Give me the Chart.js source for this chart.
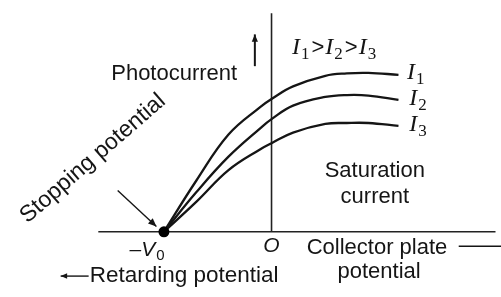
<!DOCTYPE html>
<html lang="en">
<head>
<meta charset="UTF-8">
<title>Photocurrent vs collector plate potential</title>
<script src="https://cdn.jsdelivr.net/npm/chart.js"></script>
<style>
  body { margin: 0; background: #fff; }
  #wrap { width: 501px; height: 297px; }
</style>
</head>
<body>
<div id="wrap"><canvas id="chart" width="501" height="297"></canvas></div>
<script>
// collector plate potential (arbitrary units, O = 0, -V0 = -10)
const potential = [-10, -7, -4, -1, 0, 2, 5, 7, 9, 11.8];
// photocurrent for three intensities (arbitrary units)
const currentI1 = [0, 5.3, 10.1, 13.0, 13.8, 15.1, 16.2, 16.45, 16.5, 16.3];
const currentI2 = [0, 4.1, 7.8, 10.8, 11.7, 13.1, 14.0, 14.2, 14.15, 13.7];
const currentI3 = [0, 3.1, 6.4, 8.6, 9.2, 10.3, 11.2, 11.3, 11.3, 11.0];
const stoppingV = -10;
const seriesNames = ['I1', 'I2', 'I3'];
// extents of the drawn axes
const xAxisSpan = [-16.1, 22];
const yAxisSpan = [0, 22.7];

const ink = '#151515';
const sans = '"Liberation Sans", Arial, sans-serif';
const serif = '"Liberation Serif", "Times New Roman", serif';

function toPoints(ys) {
  return ys.map((v, i) => ({ x: potential[i], y: v }));
}

function curve(label, ys) {
  return {
    label: label,
    data: toPoints(ys),
    showLine: true,
    borderColor: ink,
    borderWidth: 2.3,
    pointRadius: 0,
    tension: 0.4,
    fill: false
  };
}

function arrow(ctx, x1, y1, x2, y2, head) {
  const a = Math.atan2(y2 - y1, x2 - x1);
  ctx.beginPath();
  ctx.moveTo(x1, y1);
  ctx.lineTo(x2, y2);
  ctx.stroke();
  ctx.beginPath();
  ctx.moveTo(x2, y2);
  ctx.lineTo(x2 - head * Math.cos(a - 0.4), y2 - head * Math.sin(a - 0.4));
  ctx.lineTo(x2 - head * Math.cos(a + 0.4), y2 - head * Math.sin(a + 0.4));
  ctx.closePath();
  ctx.fill();
}

// draws runs of text with their own font and vertical offset (subscripts)
function rich(ctx, parts, px, py) {
  let cx = px;
  parts.forEach(p => {
    ctx.font = p[1];
    ctx.fillText(p[0], cx, py + (p[2] || 0));
    cx += ctx.measureText(p[0]).width + (p[3] || 0);
  });
}

const notes = {
  id: 'notes',
  afterDatasetsDraw(chart) {
    const { ctx, scales } = chart;
    const X = v => scales.x.getPixelForValue(v);
    const Y = v => scales.y.getPixelForValue(v);
    ctx.save();
    ctx.fillStyle = ink;
    ctx.strokeStyle = ink;
    ctx.lineWidth = 1.4;
    ctx.textBaseline = 'alphabetic';

    const big = '22px ' + sans;
    const iFont = 'italic 24px ' + serif;
    const subFont = '17px ' + serif;

    ctx.textAlign = 'left';
    ctx.font = big;
    ctx.fillText('Photocurrent', X(-14.9), Y(15.8));

    ctx.lineWidth = 2;
    arrow(ctx, X(-1.55), Y(17.2), X(-1.55), Y(20.5), 8);
    ctx.lineWidth = 1.4;

    rich(ctx, [
      ['I', iFont, 0, 1], ['1', subFont, 5, 2], ['>', '22px ' + sans, 0, 1],
      ['I', iFont, 0, 1], ['2', subFont, 5, 2], ['>', '22px ' + sans, 0, 1],
      ['I', iFont, 0, 1], ['3', subFont, 5]
    ], X(1.9), Y(18.5));

    const labelPos = [[12.6, 15.9], [12.8, 13.2], [12.8, 10.5]];
    seriesNames.forEach((n, i) => {
      rich(ctx, [['I', iFont, 0, 1], [n.slice(1), subFont, 5]], X(labelPos[i][0]), Y(labelPos[i][1]));
    });

    ctx.textAlign = 'center';
    ctx.font = big;
    ctx.fillText('Saturation', X(9.6), Y(5.7));
    ctx.fillText('current', X(9.6), Y(3.0));
    ctx.fillText('Collector plate', X(9.8), Y(-2.3));
    ctx.fillText('potential', X(10.0), Y(-4.8));
    ctx.beginPath();
    ctx.moveTo(X(17.4), Y(-1.5));
    ctx.lineTo(X(22), Y(-1.5));
    ctx.stroke();

    ctx.font = 'italic 21px ' + sans;
    ctx.fillText('O', X(0), Y(-2.1));

    ctx.textAlign = 'left';
    rich(ctx, [['\u2013V', 'italic 21px ' + sans, 0, 1], ['0', '15px ' + sans, 4]], X(-13.2), Y(-2.5));

    ctx.font = '22.5px ' + sans;
    ctx.fillText('Retarding potential', X(-16.9), Y(-5.2));
    arrow(ctx, X(-17.0), Y(-4.6), X(-19.6), Y(-4.6), 7);

    ctx.save();
    ctx.translate(X(-16.6), Y(7.6));
    ctx.rotate(-41 * Math.PI / 180);
    ctx.textAlign = 'center';
    ctx.textBaseline = 'middle';
    ctx.font = '23px ' + sans;
    ctx.fillText('Stopping potential', 0, 0);
    ctx.restore();

    arrow(ctx, X(-14.3), Y(4.3), X(-10.7), Y(0.55), 9);

    ctx.restore();
  }
};

new Chart(document.getElementById('chart'), {
  type: 'scatter',
  data: {
    datasets: [
      {
        label: '-V0',
        data: [{ x: stoppingV, y: 0 }],
        pointRadius: 5.5,
        pointBackgroundColor: '#000',
        pointBorderWidth: 0
      },
      curve('I1', currentI1),
      curve('I2', currentI2),
      curve('I3', currentI3),
      {
        label: 'x axis',
        data: [{ x: xAxisSpan[0], y: 0 }, { x: xAxisSpan[1], y: 0 }],
        showLine: true, borderColor: '#222', borderWidth: 1.6, pointRadius: 0
      },
      {
        label: 'y axis',
        data: [{ x: 0, y: yAxisSpan[0] }, { x: 0, y: yAxisSpan[1] }],
        showLine: true, borderColor: '#222', borderWidth: 1.6, pointRadius: 0
      }
    ]
  },
  options: {
    responsive: false,
    animation: false,
    devicePixelRatio: 1,
    layout: { padding: 0 },
    plugins: { legend: { display: false }, tooltip: { enabled: false } },
    scales: {
      x: { type: 'linear', display: false, min: -272 / 11, max: 229 / 11 },
      y: { type: 'linear', display: false, min: -6.2, max: 23.5 }
    }
  },
  plugins: [notes]
});
</script>
</body>
</html>
